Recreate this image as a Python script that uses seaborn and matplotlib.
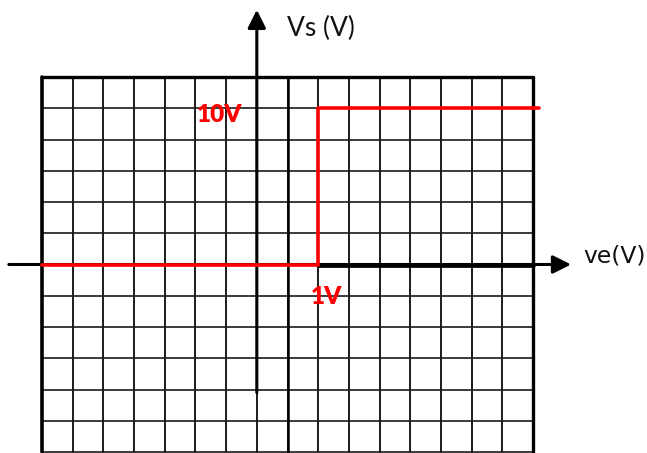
import numpy as np
import matplotlib
matplotlib.use("Agg")
import matplotlib.pyplot as plt
import seaborn as sns

# transfer characteristic Vs = f(ve)
vin = [-3.5, 1.0, 1.0, 4.6]
vout = [0.0, 0.0, 10.0, 10.0]

# grid divisions (0.5 V per column, 2 V per row)
x_grid = [-3.5, -3.0, -2.5, -2.0, -1.5, -1.0, -0.5, 0.0, 0.5,
          1.0, 1.5, 2.0, 2.5, 3.0, 3.5, 4.0, 4.5]
y_grid = [-12, -10, -8, -6, -4, -2, 0, 2, 4, 6, 8, 10, 12]

sns.set_style("white")
plt.rcParams["font.family"] = ["Lato", "DejaVu Sans"]

fig = plt.figure(figsize=(6.47, 4.53), dpi=100)
ax = fig.add_axes([0, 0, 1, 1])

# grid
for xv in x_grid:
    ax.plot([xv, xv], [y_grid[0], y_grid[-1]], color="#0a0a0a", lw=1.3, zorder=1)
for yv in y_grid:
    ax.plot([x_grid[0], x_grid[-1]], [yv, yv], color="#1a1a1a", lw=1.2, zorder=1)
ax.plot([0.5, 0.5], [y_grid[0], y_grid[-1]], color="black", lw=1.8, zorder=1)

# frame
ax.plot([x_grid[0], x_grid[0]], [y_grid[0], y_grid[-1]], color="black", lw=2.6, zorder=2)
ax.plot([x_grid[-1], x_grid[-1]], [y_grid[0], y_grid[-1]], color="black", lw=2.4, zorder=2)
ax.plot([x_grid[0], x_grid[-1]], [y_grid[-1], y_grid[-1]], color="black", lw=2.4, zorder=2)

# axes with arrows
arrow = dict(arrowstyle="-|>,head_length=1.0,head_width=0.5", mutation_scale=11,
             color="black", lw=2.2, shrinkA=0, shrinkB=0)
ax.annotate("", xy=(5.12, 0), xytext=(-4.04, 0), arrowprops=arrow, zorder=3)
ax.plot([1.0, 4.5], [0, 0], color="black", lw=3.4, zorder=3)
ax.annotate("", xy=(0, 16.3), xytext=(0, -8.2), arrowprops=arrow, zorder=3)

# characteristic
sns.lineplot(x=vin, y=vout, sort=False, estimator=None, color="#ff0000",
             lw=2.6, ax=ax, zorder=4)

ax.text(0.49, 14.62, "Vs (V)", fontsize=19, color="#111111", va="baseline", ha="left")
ax.text(5.32, 0.1, "ve(V)", fontsize=16.8, color="#111111", va="baseline", ha="left",
        family=["DejaVu Sans"])
ax.text(-0.975, 9.54, "10V", fontsize=17.5, color="#ff0000", fontweight="heavy",
        va="center", ha="left")
ax.text(0.88, -2.06, "1V", fontsize=17.5, color="#ff0000", fontweight="heavy",
        va="center", ha="left")

ax.set_xlim(-4.184, 6.357)
ax.set_ylim(-12.064, 16.928)
ax.set_axis_off()

fig.savefig("out.png", dpi=100)
